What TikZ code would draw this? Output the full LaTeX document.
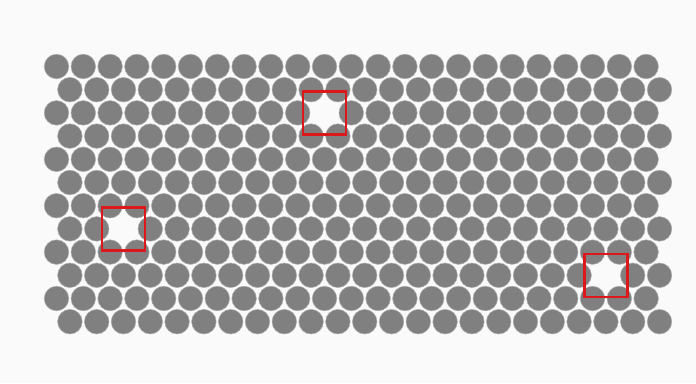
\documentclass[tikz,border=0pt]{standalone}
\usepackage{tikz}
\usetikzlibrary{positioning}
\definecolor{discgray}{RGB}{128,128,128}
\definecolor{discrim}{RGB}{175,175,175}
\definecolor{vacred}{RGB}{220,24,28}
\definecolor{paper}{RGB}{250,250,250}
\tikzset{
  disc/.style    = {fill=discgray, draw=discrim, line width=0.5pt},
  vacbox/.style  = {draw=vacred, line width=2.4pt, minimum size=43pt,
                    inner sep=0pt, fill=none},
}

\begin{document}
\begin{tikzpicture}[x=1pt, y=-1pt]

% --- canvas ---
\fill[paper] (0,0) rectangle (696,383);
\useasboundingbox (0,0) rectangle (696,383);

% --- lattice parameters ---
\def\xo{56.5}
\def\yo{66.5}
\def\dx{26.8}
\def\dy{23.2}

% --- hexagonal packing, vacancies left out ---
\foreach \r in {0,...,11}{
  \foreach \k in {0,...,22}{
    \pgfmathtruncatemacro\isvac{(\r==2 && \k==10) || (\r==7 && \k==2) || (\r==9 && \k==20)}
    \pgfmathsetmacro\cx{\xo + \k*\dx + mod(\r,2)*\dx/2}
    \pgfmathsetmacro\cy{\yo + \r*\dy}
    \ifnum\isvac=0
      \draw[disc] (\cx,\cy) circle (12.3);
    \fi
  }
}

% --- marked vacancies ---
\node[vacbox] (vacTop)   at ({\xo + 10*\dx}, {\yo + 2*\dy}) {};
\node[vacbox] (vacLeft)  at ({\xo + 2*\dx + \dx/2}, {\yo + 7*\dy}) {};
\node[vacbox] (vacRight) at ({\xo + 20*\dx + \dx/2}, {\yo + 9*\dy}) {};

\end{tikzpicture}
\end{document}
